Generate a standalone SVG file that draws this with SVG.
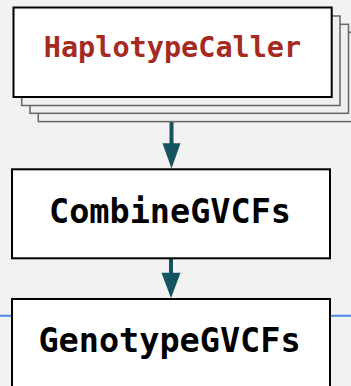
<svg xmlns="http://www.w3.org/2000/svg" width="351" height="386" viewBox="0 0 351 386">
<style>
.stack{fill:#efefef;stroke:#666;stroke-width:1.5}
.box{fill:#fff;stroke:#000;stroke-width:2}
.lbl{font-family:"DejaVu Sans Mono","Liberation Mono",monospace;font-weight:bold;text-anchor:middle}
.conn{stroke:#15535f;stroke-width:4;fill:none}
.head{fill:#15535f}
</style>
<rect x="0" y="0" width="351" height="386" fill="#f2f2f2"/>
<line x1="0" y1="315.8" x2="351" y2="315.8" stroke="#4f86e8" stroke-width="2"/>
<g id="connectors">
<line class="conn" x1="171.5" y1="121.5" x2="171.5" y2="146"/>
<polygon class="head" points="162.5,143.3 180.5,143.3 171.5,168.5"/>
<line class="conn" x1="171" y1="258" x2="171" y2="275"/>
<polygon class="head" points="161.5,272.7 180.5,272.7 171,298.3"/>
</g>
<g id="haplotypecaller">
<rect class="stack" x="38.3" y="32.3" width="330" height="89.3"/>
<rect class="stack" x="30" y="24.3" width="318.5" height="89"/>
<rect class="stack" x="21.7" y="16" width="318.3" height="89.5"/>
<rect class="box" x="13.5" y="7.5" width="318.2" height="89.5"/>
<text class="lbl" x="172.5" y="57" font-size="28.5" fill="#a52a22">HaplotypeCaller</text>
</g>
<g id="combinegvcfs">
<rect class="box" x="12" y="169.3" width="318" height="89"/>
<text class="lbl" x="170" y="222.7" font-size="33.5" fill="#000">CombineGVCFs</text>
</g>
<g id="genotypegvcfs">
<rect class="box" x="12" y="299" width="318" height="100"/>
<text class="lbl" x="169.5" y="351.7" font-size="33.5" fill="#000">GenotypeGVCFs</text>
</g>
</svg>
